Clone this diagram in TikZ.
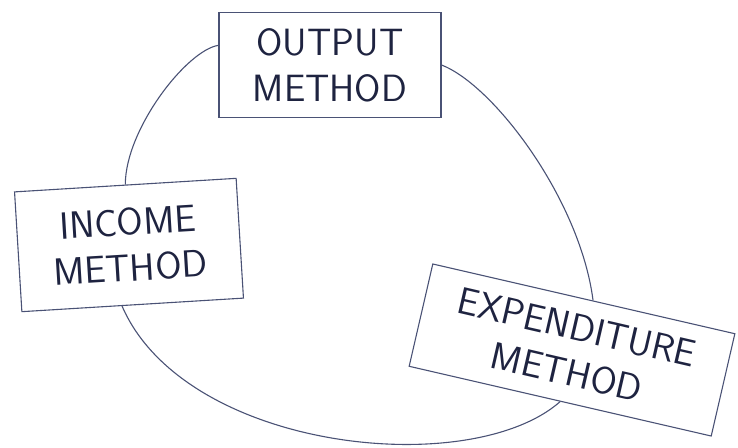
\documentclass[tikz,border=0pt]{standalone}
\usepackage{tikz}
\usetikzlibrary{positioning}
\definecolor{skpen}{HTML}{4A5275}
\definecolor{skink}{HTML}{1E2340}

\begin{document}
\begin{tikzpicture}[
      x=1pt, y=-1pt,
      font=\sffamily\fontsize{38}{46}\selectfont,
      box/.style={draw=skpen, line width=1.1pt, align=center,
                  text=skink, inner sep=0pt},
      link/.style={skpen, line width=1.1pt},
    ]
    \useasboundingbox (0,0) rectangle (738,447);

    \node[box, minimum width=222pt, minimum height=105pt] (out) at (330,65)
      {OUTPUT\\METHOD};
    \node[box, minimum width=222pt, minimum height=120pt, rotate=3.5] (inc) at (129,245)
      {INCOME\\METHOD};
    \node[box, minimum width=310pt, minimum height=105pt, rotate=-13] (exp) at (572,350)
      {EXPENDITURE\\METHOD};

    \draw[link] (out.170) .. controls +(-32,5) and +(0,-55) .. (inc.north);
    \draw[link] (out.east) .. controls +(52,20) and +(-13,-101) .. (exp.80);
    \draw[link] (inc.260) .. controls +(63,145) and +(-90,79) .. (exp.south);
  \end{tikzpicture}
\end{document}
